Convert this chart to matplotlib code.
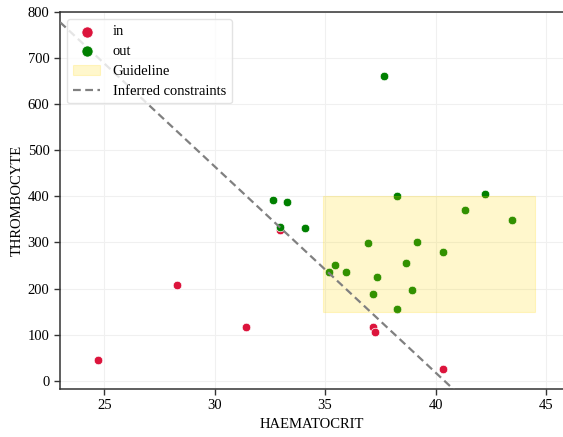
import matplotlib
matplotlib.use("Agg")
import matplotlib.pyplot as plt
from matplotlib.patches import Rectangle

plt.rcParams["font.family"] = ["Liberation Serif", "DejaVu Serif"]
plt.rcParams["font.size"] = 10.5

# samples inside the inferred constraints
in_hct = [24.7, 28.3, 31.4, 32.96, 37.17, 37.28, 40.35]
in_plt = [46, 208, 117, 327, 117, 106, 26]

# samples outside
out_hct = [37.67, 32.66, 33.28, 32.98, 34.08, 38.26, 42.25, 41.35, 43.45, 39.16,
           40.35, 38.67, 38.95, 38.26, 36.96, 35.47, 35.17, 35.96, 37.35, 37.17]
out_plt = [662, 393, 388, 333, 331, 400, 405, 371, 349, 301,
           280, 255, 196, 156, 298, 252, 235, 235, 224, 188]

# guideline box (haematocrit range, thrombocyte range)
guide_hct = (34.9, 44.5)
guide_plt = (150, 400)

# inferred constraint boundary
line_hct = [23.0, 41.0]
line_plt = [778, -27]

fig = plt.figure(figsize=(5.63, 4.37), dpi=100)
ax = fig.add_axes([0.1066, 0.1098, 0.8934, 0.8627])

ax.grid(True, color="#f0f0f0", linewidth=0.8, zorder=0)
ax.set_axisbelow(True)

ax.scatter(in_hct, in_plt, s=38, color="crimson", edgecolor="white",
           linewidth=0.5, zorder=3, label="in")
ax.scatter(out_hct, out_plt, s=38, color="green", edgecolor="white",
           linewidth=0.5, zorder=3, label="out")

rect = Rectangle((guide_hct[0], guide_plt[0]), guide_hct[1] - guide_hct[0],
                 guide_plt[1] - guide_plt[0], facecolor="gold", alpha=0.2,
                 edgecolor="gold", linewidth=0.8, zorder=4, label="Guideline")
ax.add_patch(rect)

ax.plot(line_hct, line_plt, linestyle=(0, (3.5, 2)), color="grey",
        linewidth=1.6, zorder=5, label="Inferred constraints")

ax.set_xlim(23.0, 45.77)
ax.set_ylim(-18, 800)
ax.set_xticks([25, 30, 35, 40, 45])
ax.set_yticks(range(0, 801, 100))
ax.set_xlabel("HAEMATOCRIT", fontsize=10.5)
ax.set_ylabel("THROMBOCYTE", fontsize=10.5, labelpad=3)

for side in ["left", "bottom", "top"]:
    ax.spines[side].set_color("#333333")
    ax.spines[side].set_linewidth(1.1)
ax.spines["right"].set_visible(False)
ax.tick_params(axis="both", length=4, width=1, color="#333333", labelsize=10.5,
               labelcolor="black", direction="out")

leg = ax.legend(loc="upper left", fontsize=10.5, frameon=True, markerscale=1.3,
                handlelength=1.85, borderpad=0.4, labelspacing=0.45,
                handletextpad=0.85)
leg.get_frame().set_edgecolor("#dddddd")

fig.savefig("out.png", dpi=100)
